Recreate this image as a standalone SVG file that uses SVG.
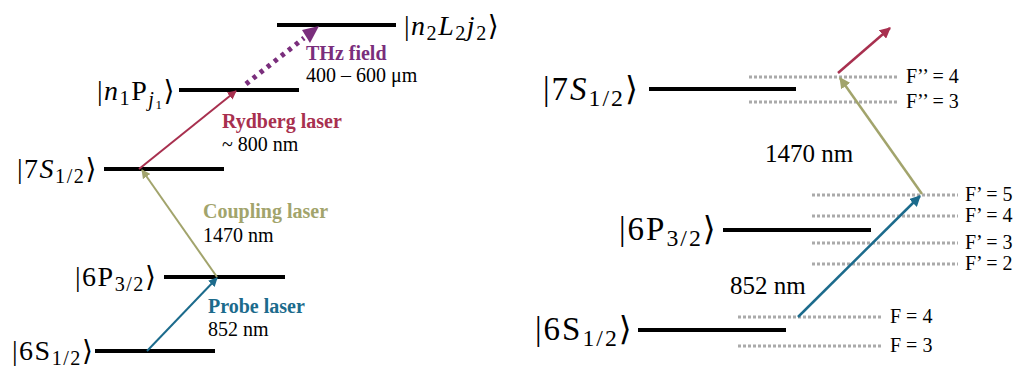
<svg xmlns="http://www.w3.org/2000/svg" width="1016" height="367" viewBox="0 0 1016 367">
<defs>
<style>
.lvl{stroke:#000;stroke-width:4;fill:none}
.hf{stroke:#aaaaaa;stroke-width:3;stroke-dasharray:3 2;fill:none}
.t{font-family:"Liberation Serif","DejaVu Serif",serif;fill:#000}
.ket{font-size:28px;letter-spacing:1.5px}
.ketR{font-size:33px;letter-spacing:2px}
.sub{font-size:72%}
.lab{font-size:20px}
.bl{font-size:20px;font-weight:bold}
.fl{font-size:20px}
.blue{stroke:#1c6b8c}
.red{stroke:#a8304f}
.olive{stroke:#a2a46c}
</style>
<marker id="mb" viewBox="0 0 10 10" refX="9" refY="5" markerWidth="9" markerHeight="9" markerUnits="userSpaceOnUse" orient="auto"><path d="M0,0 L10,5 L0,10 z" fill="#1c6b8c"/></marker>
<marker id="mr" viewBox="0 0 10 10" refX="9" refY="5" markerWidth="9" markerHeight="9" markerUnits="userSpaceOnUse" orient="auto"><path d="M0,0 L10,5 L0,10 z" fill="#a8304f"/></marker>
<marker id="mo" viewBox="0 0 10 10" refX="9" refY="5" markerWidth="9" markerHeight="9" markerUnits="userSpaceOnUse" orient="auto"><path d="M0,0 L10,5 L0,10 z" fill="#a2a46c"/></marker>
<marker id="mbL" viewBox="0 0 10 10" refX="9" refY="5" markerWidth="11" markerHeight="11" markerUnits="userSpaceOnUse" orient="auto"><path d="M0,0 L10,5 L0,10 z" fill="#1c6b8c"/></marker>
<marker id="mrL" viewBox="0 0 10 10" refX="9" refY="5" markerWidth="11" markerHeight="11" markerUnits="userSpaceOnUse" orient="auto"><path d="M0,0 L10,5 L0,10 z" fill="#a8304f"/></marker>
<marker id="moL" viewBox="0 0 10 10" refX="9" refY="5" markerWidth="11" markerHeight="11" markerUnits="userSpaceOnUse" orient="auto"><path d="M0,0 L10,5 L0,10 z" fill="#a2a46c"/></marker>
</defs>
<rect width="1016" height="367" fill="#fff"/>

<!-- Left diagram -->
<g id="L-n2">
<line class="lvl" x1="277" y1="25" x2="396" y2="25"/>
<text class="t ket" x="404" y="35">|<tspan font-style="italic">n</tspan><tspan class="sub" dy="5">2</tspan><tspan font-style="italic" dy="-5">L</tspan><tspan class="sub" dy="5">2</tspan><tspan font-style="italic" dy="-5">j</tspan><tspan class="sub" dy="5">2</tspan><tspan dy="-5">⟩</tspan></text>
</g>
<g id="L-n1">
<line class="lvl" x1="179" y1="90" x2="299" y2="90"/>
<text class="t ket" x="97" y="100">|<tspan font-style="italic">n</tspan><tspan class="sub" dy="5">1</tspan><tspan dy="-5">P</tspan><tspan class="sub" font-style="italic" dy="6">j</tspan><tspan font-size="13px" dy="3">1</tspan><tspan dy="-9">⟩</tspan></text>
</g>
<g id="L-7S">
<line class="lvl" x1="104" y1="169" x2="224" y2="169"/>
<text class="t ket" x="17" y="178">|7<tspan font-style="italic">S</tspan><tspan class="sub" dy="5">1/2</tspan><tspan dy="-5">⟩</tspan></text>
</g>
<g id="L-6P">
<line class="lvl" x1="164" y1="277" x2="285" y2="277"/>
<text class="t ket" x="75" y="286">|6P<tspan class="sub" dy="5">3/2</tspan><tspan dy="-5">⟩</tspan></text>
</g>
<g id="L-6S">
<line class="lvl" x1="95" y1="351" x2="215" y2="351"/>
<text class="t ket" x="12" y="360">|6S<tspan class="sub" dy="5">1/2</tspan><tspan dy="-5">⟩</tspan></text>
</g>

<g id="L-labels">
<text class="t bl" x="306" y="60" style="fill:#7a2e7c">THz field</text>
<text class="t lab" x="306" y="82">400 – 600 μm</text>
<text class="t bl" x="222" y="128" style="fill:#a8304f">Rydberg laser</text>
<text class="t lab" x="222" y="151">~ 800 nm</text>
<text class="t bl" x="203" y="218" style="fill:#a2a46c">Coupling laser</text>
<text class="t lab" x="203" y="242">1470 nm</text>
<text class="t bl" x="208" y="313" style="fill:#1c6b8c">Probe laser</text>
<text class="t lab" x="208" y="336">852 nm</text>
</g>

<!-- Right diagram -->
<g id="R-7S">
<line class="lvl" x1="649" y1="89" x2="796" y2="89"/>
<text class="t ketR" x="543" y="100">|7<tspan font-style="italic">S</tspan><tspan class="sub" dy="6">1/2</tspan><tspan dy="-6">⟩</tspan></text>
<line class="hf" x1="749" y1="77" x2="898" y2="77"/>
<text class="t fl" x="906" y="83">F’’ = 4</text>
<line class="hf" x1="749" y1="102" x2="898" y2="102"/>
<text class="t fl" x="906" y="108">F’’ = 3</text>
</g>
<g id="R-6P">
<line class="lvl" x1="723" y1="230" x2="871" y2="230"/>
<text class="t ketR" x="619" y="240">|6P<tspan class="sub" dy="6">3/2</tspan><tspan dy="-6">⟩</tspan></text>
<line class="hf" x1="812" y1="195" x2="958" y2="195"/>
<text class="t fl" x="965" y="201">F’ = 5</text>
<line class="hf" x1="812" y1="216" x2="958" y2="216"/>
<text class="t fl" x="965" y="222">F’ = 4</text>
<line class="hf" x1="812" y1="243" x2="958" y2="243"/>
<text class="t fl" x="965" y="249">F’ = 3</text>
<line class="hf" x1="812" y1="264" x2="958" y2="264"/>
<text class="t fl" x="965" y="270">F’ = 2</text>
</g>
<g id="R-6S">
<line class="lvl" x1="638" y1="330" x2="786" y2="330"/>
<text class="t ketR" x="535" y="340">|6S<tspan class="sub" dy="6">1/2</tspan><tspan dy="-6">⟩</tspan></text>
<line class="hf" x1="738" y1="317" x2="883" y2="317"/>
<text class="t fl" x="890" y="323">F = 4</text>
<line class="hf" x1="738" y1="346" x2="883" y2="346"/>
<text class="t fl" x="890" y="352">F = 3</text>
</g>
<g id="R-labels">
<text class="t" x="765" y="162" font-size="25px">1470 nm</text>
<text class="t" x="730" y="294" font-size="25px">852 nm</text>
</g>

<g id="connectors" fill="none">
<line class="blue" stroke-width="2" x1="147" y1="351" x2="217" y2="278" marker-end="url(#mb)"/>
<line class="olive" stroke-width="2" x1="217" y1="277" x2="142" y2="170" marker-end="url(#mo)"/>
<line class="red" stroke-width="2" x1="139" y1="169" x2="236" y2="91" marker-end="url(#mr)"/>
<line stroke="#7a2e7c" stroke-width="5" stroke-dasharray="4 5" x1="246" y1="84" x2="304" y2="38"/>
<path d="M319,26 L302,30 L310,43 z" fill="#7a2e7c"/>
<line class="blue" stroke-width="2.5" x1="798" y1="317" x2="920" y2="196" marker-end="url(#mbL)"/>
<line class="olive" stroke-width="2.5" x1="922" y1="194" x2="840" y2="78" marker-end="url(#moL)"/>
<line class="red" stroke-width="2.5" x1="838" y1="73" x2="890" y2="28" marker-end="url(#mrL)"/>
</g>
</svg>
